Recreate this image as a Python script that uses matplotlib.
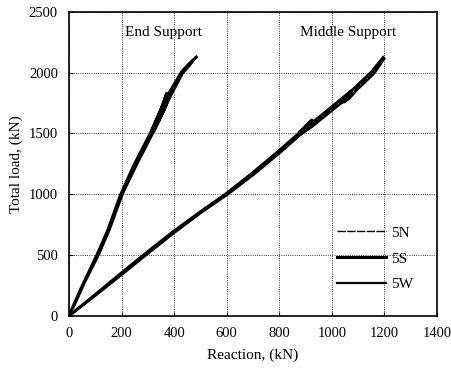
import matplotlib.pyplot as plt

plt.rcParams['font.family'] = ['Liberation Serif', 'DejaVu Serif']

# end support (reaction, total load)
end_5N_x = [0, 25, 55, 110, 150, 200, 250, 315, 360, 378, 365, 340, 320, 345, 385, 430, 455, 482]
end_5N_y = [0, 115, 260, 500, 700, 1000, 1230, 1500, 1700, 1820, 1740, 1620, 1520, 1630, 1820, 2000, 2060, 2125]
end_5S_x = [0, 22, 52, 105, 146, 196, 246, 310, 352, 372, 360, 337, 318, 342, 380, 428, 453, 484]
end_5S_y = [0, 110, 255, 495, 695, 995, 1235, 1505, 1710, 1830, 1750, 1630, 1530, 1640, 1830, 2005, 2065, 2128]
end_5W_x = [0, 28, 58, 114, 154, 204, 254, 318, 364, 383, 370, 344, 323, 348, 389, 433, 458, 480]
end_5W_y = [0, 120, 265, 505, 705, 1000, 1225, 1495, 1695, 1815, 1735, 1615, 1515, 1625, 1815, 1995, 2055, 2118]

# middle support
mid_5N_x = [0, 100, 200, 300, 400, 500, 600, 700, 800, 879, 930, 900, 880, 920, 1000, 1080, 1060, 1040, 1080, 1157, 1197]
mid_5N_y = [0, 170, 345, 520, 690, 850, 1000, 1170, 1350, 1500, 1600, 1540, 1500, 1560, 1700, 1840, 1790, 1760, 1840, 2000, 2120]
mid_5S_x = [0, 97, 195, 295, 395, 496, 595, 695, 795, 874, 924, 896, 876, 915, 995, 1074, 1055, 1036, 1075, 1152, 1195]
mid_5S_y = [0, 170, 345, 520, 690, 850, 1000, 1170, 1350, 1500, 1610, 1550, 1510, 1570, 1710, 1850, 1800, 1770, 1850, 2008, 2124]
mid_5W_x = [0, 103, 205, 305, 405, 504, 605, 705, 805, 884, 935, 905, 884, 925, 1005, 1086, 1066, 1045, 1085, 1162, 1200]
mid_5W_y = [0, 170, 345, 520, 690, 850, 1000, 1165, 1345, 1495, 1595, 1535, 1495, 1555, 1695, 1835, 1785, 1755, 1835, 1995, 2116]

fig = plt.figure(figsize=(4.51, 3.82), dpi=100)
ax = fig.add_axes([0.153, 0.173, 0.816, 0.796])

ax.plot(end_5N_x, end_5N_y, c='black', lw=1.0, ls=(0, (6, 1)), label='5N')
ax.plot(mid_5N_x, mid_5N_y, c='black', lw=1.0, ls=(0, (6, 1)))
ax.plot(end_5S_x, end_5S_y, c='black', lw=2.2, label='5S')
ax.plot(mid_5S_x, mid_5S_y, c='black', lw=2.2)
ax.plot(end_5W_x, end_5W_y, c='black', lw=1.6, label='5W')
ax.plot(mid_5W_x, mid_5W_y, c='black', lw=1.6)

ax.set_xlim(0, 1400)
ax.set_ylim(0, 2500)
ax.set_xticks(range(0, 1401, 200))
ax.set_yticks(range(0, 2501, 500))
ax.grid(True, color='black', ls=':', lw=0.6)
ax.tick_params(direction='in', length=3, labelsize=10.5, pad=8)
for s in ax.spines.values():
    s.set_linewidth(1.2)

ax.text(358, 2330, 'End Support', ha='center', va='center', fontsize=11)
ax.text(1060, 2330, 'Middle Support', ha='center', va='center', fontsize=11)

ax.set_xlabel('Reaction, (kN)', fontsize=11, labelpad=6)
ax.set_ylabel('Total load, (kN)', fontsize=11, labelpad=4)

ax.legend(loc='lower right', frameon=False, fontsize=11, handlelength=3.2,
          handletextpad=0.3, labelspacing=0.8, borderaxespad=1.2)

fig.savefig('out.png')
